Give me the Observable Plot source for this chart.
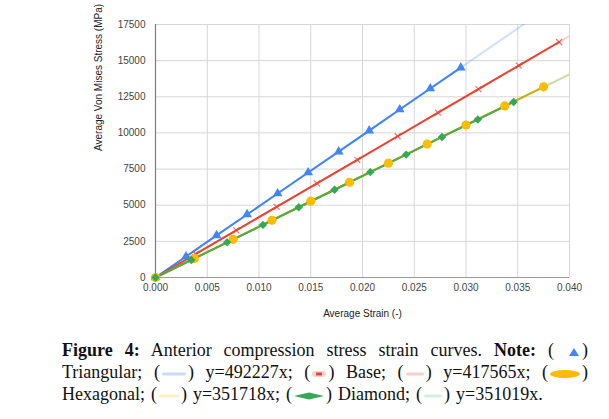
<!DOCTYPE html>
<html>
<head>
<meta charset="utf-8">
<script src="https://cdn.jsdelivr.net/npm/d3@7"></script>
<script src="https://cdn.jsdelivr.net/npm/@observablehq/plot@0.6"></script>
<style>
  html, body { margin: 0; padding: 0; background: #fff; }
  #chart svg { display: block; }
  #caption {
    margin-left: 62px; width: 526px; padding-top: 9px;
    font-family: "Liberation Serif", "Times New Roman", serif;
    font-size: 18px; line-height: 22px; color: #111;
  }
  #caption .j { text-align: justify; text-align-last: justify; white-space: nowrap; }
  #caption .l { white-space: nowrap; word-spacing: 1.5px; }
  .sw { display: inline-block; vertical-align: middle; margin: 0 2px; }
</style>
</head>
<body>
<div id="chart"></div>
<div id="caption"></div>
<script>
// ---- data ----
const xTicks = [0, 0.005, 0.010, 0.015, 0.020, 0.025, 0.030, 0.035, 0.040];
const yTicks = [0, 2500, 5000, 7500, 10000, 12500, 15000, 17500];

const triStrain = [0, 0.00295, 0.0059, 0.00885, 0.0118, 0.01475, 0.0177, 0.02065, 0.0236, 0.02655, 0.0295];
const triStress = [0, 1450, 2910, 4360, 5810, 7260, 8710, 10160, 11620, 13070, 14520];

const baseStrain = [0, 0.0039, 0.0078, 0.0117, 0.0156, 0.0195, 0.0234, 0.0273, 0.0312, 0.0351, 0.039];
const baseStress = [0, 1630, 3260, 4890, 6510, 8140, 9770, 11400, 13030, 14660, 16290];

const hexStrain = [0, 0.00375, 0.0075, 0.01125, 0.015, 0.01875, 0.0225, 0.02625, 0.03, 0.03375, 0.0375];
const hexStress = [0, 1320, 2640, 3960, 5280, 6590, 7910, 9230, 10550, 11870, 13190];

const diaStrain = [0, 0.00346, 0.00692, 0.01038, 0.01384, 0.0173, 0.02076, 0.02422, 0.02768, 0.03114, 0.0346];
const diaStress = [0, 1210, 2430, 3640, 4860, 6070, 7290, 8500, 9720, 10930, 12140];

const seriesNames = ["Triangular", "Base", "Hexagonal", "Diamond"];
const trendSlopes = [492227, 417565, 351718, 351019];
const seriesColors = ["#4285f4", "#ea4335", "#f4b400", "#34a853"];
const xLabel = "Average Strain (-)";
const yLabel = "Average Von Mises Stress (MPa)";

// ---- build tables ----
const toRows = (xs, ys, name) => xs.map((x, i) => ({x, y: ys[i], name}));
const tri = toRows(triStrain, triStress, "Triangular");
const base = toRows(baseStrain, baseStress, "Base");
const hex = toRows(hexStrain, hexStress, "Hexagonal");
const dia = toRows(diaStrain, diaStress, "Diamond");
const xMax = xTicks[xTicks.length - 1];
const trend = (i) => [{x: 0, y: 0}, {x: xMax, y: trendSlopes[i] * xMax}];

const chart = Plot.plot({
  width: 609, height: 330,
  marginTop: 24, marginLeft: 155, marginRight: 40, marginBottom: 53,
  x: {domain: [0, xMax]},
  y: {domain: [0, yTicks[yTicks.length - 1]]},
  style: {fontFamily: "'Liberation Sans', Arial, sans-serif", fontSize: "10px", color: "#444", background: "#fff"},
  marks: [
    Plot.gridX(xTicks, {stroke: "#d6d6d6", strokeOpacity: 1, strokeWidth: 1}),
    Plot.gridY(yTicks, {stroke: "#d6d6d6", strokeOpacity: 1, strokeWidth: 1}),
    Plot.ruleX([0], {stroke: "#7a7a7a", strokeWidth: 1.2}),
    Plot.ruleY([0], {stroke: "#9a9a9a", strokeWidth: 1.2}),
    Plot.axisX(xTicks, {tickSize: 0, tickPadding: 6, tickFormat: d3.format(".3f"), label: null, fill: "#444"}),
    Plot.axisY(yTicks, {tickSize: 0, tickPadding: 10, tickFormat: d3.format("d"), label: null, fill: "#444"}),
    // series lines
    Plot.line(tri, {x: "x", y: "y", stroke: seriesColors[0], strokeWidth: 2}),
    Plot.line(base, {x: "x", y: "y", stroke: seriesColors[1], strokeWidth: 2}),
    Plot.line(hex, {x: "x", y: "y", stroke: seriesColors[2], strokeWidth: 2}),
    Plot.line(dia, {x: "x", y: "y", stroke: seriesColors[3], strokeWidth: 2}),
    // trendlines
    Plot.line(trend(0), {x: "x", y: "y", stroke: seriesColors[0], strokeOpacity: 0.25, strokeWidth: 2, clip: true}),
    Plot.line(trend(1), {x: "x", y: "y", stroke: seriesColors[1], strokeOpacity: 0.25, strokeWidth: 2, clip: true}),
    Plot.line(trend(2), {x: "x", y: "y", stroke: seriesColors[2], strokeOpacity: 0.25, strokeWidth: 2, clip: true}),
    Plot.line(trend(3), {x: "x", y: "y", stroke: seriesColors[3], strokeOpacity: 0.25, strokeWidth: 2, clip: true}),
    // markers
    Plot.dot(tri, {x: "x", y: "y", symbol: "triangle", fill: seriesColors[0], r: 3.6}),
    Plot.dot(base, {x: "x", y: "y", symbol: "times", stroke: seriesColors[1], strokeOpacity: 0.7, strokeWidth: 1.3, r: 2.8}),
    Plot.dot(hex, {x: "x", y: "y", symbol: "circle", fill: "#fbbc04", r: 4.6}),
    Plot.dot(dia, {x: "x", y: "y", symbol: "diamond2", fill: seriesColors[3], r: 3.8}),
    // axis titles
    Plot.text([xLabel], {frameAnchor: "bottom", dy: 39, fill: "#222", fontSize: 10}),
    Plot.text([yLabel], {frameAnchor: "left", dx: -57, rotate: -90, fill: "#222", fontSize: 10})
  ]
});
document.getElementById("chart").append(chart);

// ---- caption ----
const sw = {
  tri: `<svg class="sw" width="12" height="10" viewBox="0 0 12 10"><polygon points="6,1 11,9 1,9" fill="#4285f4"/></svg>`,
  line: (c, w) => `<svg class="sw" width="${w}" height="6" viewBox="0 0 ${w} 6"><rect x="0" y="1.5" width="${w}" height="3" rx="1.5" fill="${c}"/></svg>`,
  red: `<svg class="sw" width="14" height="8" viewBox="0 0 14 8"><rect x="0" y="1" width="14" height="6" rx="3" fill="#f8d3cf"/><rect x="4" y="2.5" width="6" height="3" fill="#e04a3c"/></svg>`,
  yel: `<svg class="sw" width="30" height="10" viewBox="0 0 30 10"><ellipse cx="15" cy="5" rx="15" ry="4" fill="#fbbc04"/></svg>`,
  grn: `<svg class="sw" width="30" height="10" viewBox="0 0 30 10"><polygon points="0,5 15,1.5 30,5 15,8.5" fill="#34a853"/></svg>`
};
document.getElementById("caption").innerHTML =
  `<div class="j"><b>Figure 4:</b> Anterior compression stress strain curves. <b>Note:</b> ( ${sw.tri})</div>` +
  `<div class="j">${seriesNames[0]}; (${sw.line("#c6dafc", 24)}) y=${trendSlopes[0]}x; (${sw.red}) ${seriesNames[1]}; (${sw.line("#f9cdca", 18)}) y=${trendSlopes[1]}x; (${sw.yel})</div>` +
  `<div class="l">${seriesNames[2]}; (${sw.line("#fdeebe", 20)}) y=${trendSlopes[2]}x; (${sw.grn}) ${seriesNames[3]}; (${sw.line("#d6eedd", 18)}) y=${trendSlopes[3]}x.</div>`;
</script>
</body>
</html>
